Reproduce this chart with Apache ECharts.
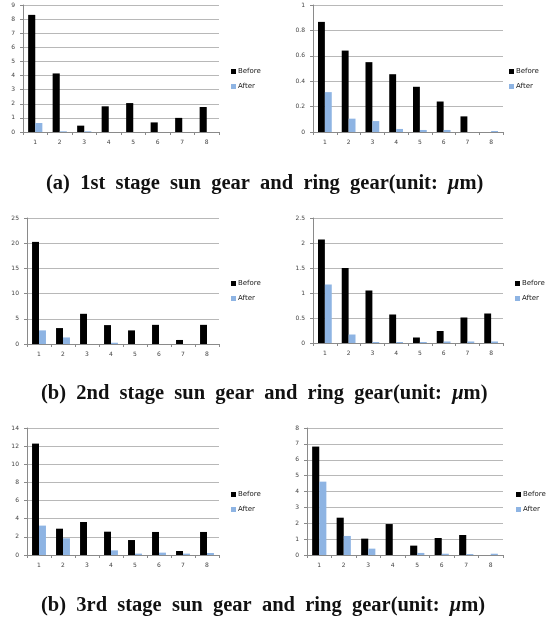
<!DOCTYPE html>
<html>
<head>
<meta charset="utf-8">
<script src="https://cdn.jsdelivr.net/npm/echarts@6/dist/echarts.min.js"></script>
<style>
  html, body { margin: 0; padding: 0; background: #fff; }
  #chart { width: 550px; height: 622px; }
</style>
</head>
<body>
<div id="chart"></div>
<script>
// Measurement positions 1..8
const categories = ['1', '2', '3', '4', '5', '6', '7', '8'];

// 1st stage: sun gear and ring gear
const sun1Before = [8.3, 4.15, 0.45, 1.82, 2.05, 0.68, 1.0, 1.77];
const sun1After  = [0.64, 0.05, 0.05, 0, 0, 0, 0, 0];
const ring1Before = [0.867, 0.641, 0.55, 0.455, 0.356, 0.24, 0.123, 0];
const ring1After  = [0.314, 0.105, 0.086, 0.024, 0.016, 0.016, 0, 0.008];

// 2nd stage
const sun2Before = [20.26, 3.16, 5.99, 3.75, 2.7, 3.8, 0.8, 3.8];
const sun2After  = [2.7, 1.3, 0, 0.25, 0, 0, 0, 0];
const ring2Before = [2.07, 1.5, 1.05, 0.57, 0.11, 0.24, 0.51, 0.59];
const ring2After  = [1.17, 0.17, 0.02, 0.02, 0.02, 0.03, 0.03, 0.03];

// 3rd stage
const sun3Before = [12.28, 2.9, 3.64, 2.57, 1.65, 2.54, 0.44, 2.54];
const sun3After  = [3.24, 1.84, 0, 0.51, 0.15, 0.26, 0.15, 0.22];
const ring3Before = [6.83, 2.35, 1.03, 1.95, 0.59, 1.07, 1.26, 0];
const ring3After  = [4.62, 1.2, 0.4, 0, 0.13, 0.08, 0.06, 0.08];

// Y axis ranges (max, interval)
const yMax = [9, 1, 25, 2.5, 14, 8];
const yStep = [1, 0.2, 5, 0.5, 2, 1];

const seriesNames = ['Before', 'After'];
const captions = [
  '(a)  1st  stage  sun  gear  and  ring  gear(unit:  ',
  '(b)  2nd  stage  sun  gear  and  ring  gear(unit:  ',
  '(b)  3rd  stage  sun  gear  and  ring  gear(unit:  '
];

const panels = [
  [sun1Before, sun1After], [ring1Before, ring1After],
  [sun2Before, sun2After], [ring2Before, ring2After],
  [sun3Before, sun3After], [ring3Before, ring3After]
];

const grids = [
  { left: 23, top: 5, width: 196, height: 127 },
  { left: 313, top: 5, width: 190, height: 127 },
  { left: 27, top: 218, width: 192, height: 126 },
  { left: 313, top: 218, width: 190, height: 125 },
  { left: 27, top: 428, width: 192, height: 127 },
  { left: 307, top: 428, width: 196, height: 127 }
];
const legendPos = [
  { left: 226, top: 63 }, { left: 504, top: 63 },
  { left: 226, top: 275 }, { left: 510, top: 275 },
  { left: 226, top: 486 }, { left: 511, top: 486 }
];
const captionX = [46, 41, 41];
const captionY = [173, 383, 595];

const tickFont = { fontFamily: 'DejaVu Sans', fontSize: 6, color: '#444' };
const colors = ['#000000', '#8eb4e3'];

const option = {
  animation: false,
  backgroundColor: '#fff',
  grid: grids,
  xAxis: grids.map((g, i) => ({
    type: 'category', gridIndex: i, data: categories,
    axisLine: { lineStyle: { color: '#8a8a8a', width: 1 } },
    axisTick: { show: true, length: 3, lineStyle: { color: '#8a8a8a' } },
    axisLabel: Object.assign({ margin: 7 }, tickFont)
  })),
  yAxis: grids.map((g, i) => ({
    type: 'value', gridIndex: i, min: 0, max: yMax[i], interval: yStep[i],
    axisLine: { show: true, lineStyle: { color: '#8a8a8a', width: 1 } },
    axisTick: { show: true, length: 3, lineStyle: { color: '#8a8a8a' } },
    splitLine: { lineStyle: { color: '#b8b8b8', width: 1 } },
    axisLabel: Object.assign({ margin: 8 }, tickFont)
  })),
  legend: legendPos.map(p => ({
    data: seriesNames, orient: 'vertical', left: p.left, top: p.top,
    itemWidth: 5, itemHeight: 5, itemGap: 8, icon: 'rect',
    textStyle: { fontFamily: 'DejaVu Sans', fontSize: 7, color: '#222', padding: [0, 0, 0, -3] }
  })),
  series: [],
  title: captions.map((c, i) => ({
    text: '{t|' + c + '}{mu|\u03bc}{t|m)}',
    left: captionX[i], top: captionY[i], padding: 0,
    textStyle: {
      rich: {
        t: { fontFamily: 'Liberation Serif', fontWeight: 'bold', fontSize: 20.5, color: '#111' },
        mu: { fontFamily: 'Liberation Serif', fontStyle: 'italic', fontSize: 20.5, color: '#111' }
      }
    }
  }))
};

panels.forEach((pair, i) => {
  pair.forEach((vals, k) => {
    option.series.push({
      type: 'bar', name: seriesNames[k], xAxisIndex: i, yAxisIndex: i,
      data: vals, barGap: '0%', barCategoryGap: '42%',
      itemStyle: { color: colors[k] }
    });
  });
});

echarts.init(document.getElementById('chart')).setOption(option);
</script>
</body>
</html>
